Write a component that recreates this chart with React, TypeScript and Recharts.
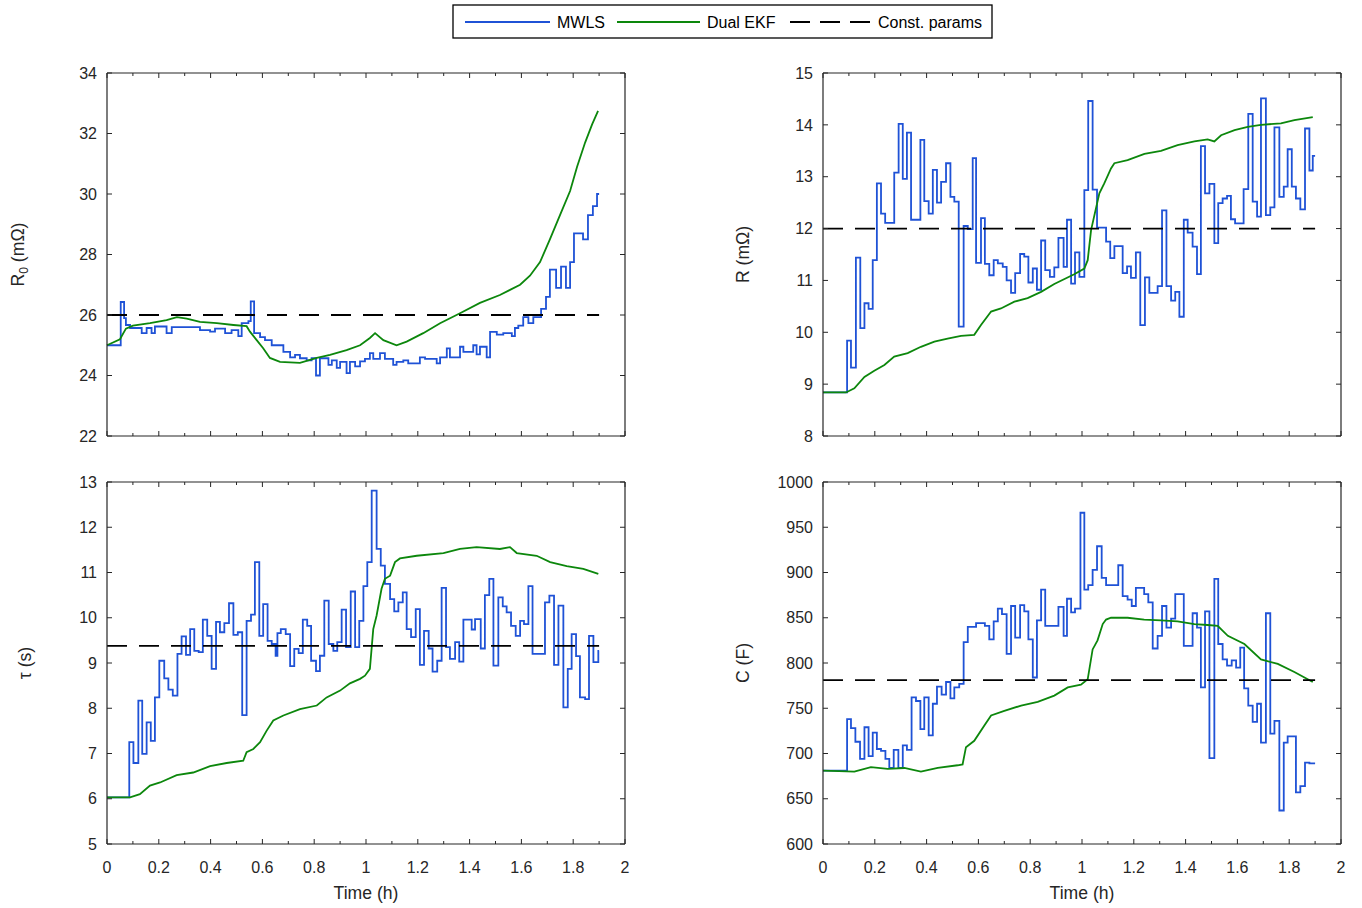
import React from "react";
import { LineChart, Line, XAxis, YAxis } from "recharts";

// ---- R0 (mOhm) ----
const r0MwlsTime = [
  0, 0.053, 0.066, 0.073, 0.089, 0.134, 0.153, 0.172, 0.185, 0.23,
  0.25, 0.359, 0.398, 0.417, 0.456, 0.481, 0.507, 0.52, 0.546, 0.555,
  0.568, 0.591, 0.61, 0.636, 0.681, 0.707, 0.726, 0.745, 0.771, 0.79,
  0.807, 0.822, 0.855, 0.868, 0.887, 0.9, 0.925, 0.938, 0.958, 0.977,
  0.996, 1.015, 1.028, 1.054, 1.073, 1.105, 1.118, 1.144, 1.163, 1.208,
  1.228, 1.273, 1.286, 1.312, 1.324, 1.363, 1.376, 1.414, 1.427, 1.44,
  1.466, 1.479, 1.505, 1.53, 1.563, 1.575, 1.588, 1.607, 1.627, 1.646,
  1.676, 1.695, 1.71, 1.734, 1.753, 1.772, 1.788, 1.803, 1.838, 1.857,
  1.876, 1.892, 1.9,
];
const r0MwlsVal = [
  25.0, 26.43, 25.9, 25.67, 25.57, 25.4, 25.57, 25.4, 25.62, 25.4,
  25.6, 25.5, 25.45, 25.55, 25.4, 25.5, 25.3, 25.73, 25.8, 26.45,
  25.4, 25.27, 25.17, 25.0, 24.78, 24.6, 24.68, 24.57, 24.5, 24.57,
  24.0, 24.57, 24.35, 24.5, 24.25, 24.45, 24.08, 24.45, 24.3, 24.47,
  24.55, 24.74, 24.55, 24.74, 24.55, 24.35, 24.45, 24.5, 24.4, 24.6,
  24.55, 24.4, 24.6, 24.9, 24.6, 24.95, 24.78, 25.0, 24.7, 24.95,
  24.6, 25.44, 25.35, 25.4, 25.3, 25.57, 25.65, 25.93, 25.73, 25.93,
  26.2, 26.6, 27.5, 26.9, 27.6, 26.9, 27.75, 28.7, 28.5, 29.3,
  29.6, 30.0, 30.0,
];
const r0EkfTime = [
  0, 0.05, 0.073, 0.1, 0.166, 0.23, 0.27, 0.308, 0.359, 0.424,
  0.488, 0.539, 0.552, 0.578, 0.603, 0.629, 0.668, 0.745, 0.81, 0.861,
  0.925, 0.977, 1.015, 1.035, 1.067, 1.118, 1.157, 1.221, 1.286, 1.363,
  1.44, 1.517, 1.556, 1.595, 1.633, 1.672, 1.71, 1.749, 1.788, 1.815,
  1.846, 1.873, 1.896,
];
const r0EkfVal = [
  25.0, 25.2, 25.55, 25.65, 25.73, 25.83, 25.93, 25.88, 25.77, 25.73,
  25.67, 25.63, 25.45, 25.17, 24.9, 24.58, 24.45, 24.42, 24.58, 24.68,
  24.84, 25.0, 25.24, 25.4, 25.17, 25.0, 25.12, 25.4, 25.73, 26.06,
  26.4, 26.66, 26.83, 27.0, 27.3, 27.75, 28.5, 29.3, 30.1, 30.9,
  31.7, 32.3, 32.75,
];
const r0Const = 26;

// ---- R (mOhm) ----
const rMwlsTime = [
  0, 0.093, 0.108, 0.127, 0.144, 0.16, 0.176, 0.192, 0.208, 0.224,
  0.24, 0.275, 0.292, 0.308, 0.324, 0.34, 0.376, 0.391, 0.408, 0.424,
  0.44, 0.456, 0.475, 0.492, 0.507, 0.524, 0.543, 0.559, 0.578, 0.591,
  0.61, 0.625, 0.642, 0.659, 0.675, 0.694, 0.709, 0.726, 0.742, 0.761,
  0.777, 0.793, 0.81, 0.826, 0.842, 0.858, 0.876, 0.893, 0.909, 0.929,
  0.942, 0.958, 0.973, 0.99, 1.009, 1.024, 1.041, 1.058, 1.093, 1.109,
  1.125, 1.157, 1.174, 1.189, 1.208, 1.225, 1.243, 1.26, 1.292, 1.309,
  1.326, 1.344, 1.36, 1.376, 1.393, 1.408, 1.427, 1.444, 1.459, 1.475,
  1.492, 1.511, 1.526, 1.543, 1.56, 1.575, 1.591, 1.624, 1.642, 1.659,
  1.676, 1.691, 1.71, 1.727, 1.743, 1.762, 1.779, 1.794, 1.81, 1.826,
  1.843, 1.861, 1.878, 1.891, 1.9,
];
const rMwlsVal = [
  8.84, 9.84, 9.32, 11.44, 10.08, 10.56, 10.45, 11.39, 12.87, 12.29,
  12.11, 13.08, 14.02, 12.96, 13.85, 12.17, 13.71, 12.53, 12.29, 13.13,
  12.5, 12.9, 13.26, 12.61, 12.52, 10.11, 12.05, 11.99, 13.36, 11.34,
  12.2, 11.32, 11.1, 11.39, 11.33, 11.26, 11.0, 10.76, 11.14, 11.51,
  11.46, 10.96, 11.23, 10.82, 11.77, 11.2, 11.07, 11.25, 11.82, 11.26,
  12.17, 10.94, 11.54, 11.07, 12.74, 14.46, 12.75, 12.02, 11.75, 11.43,
  11.66, 11.14, 11.27, 11.05, 11.54, 10.14, 11.06, 10.76, 10.89, 12.35,
  10.89, 10.61, 10.78, 10.3, 12.17, 11.92, 11.65, 11.12, 13.59, 12.68,
  12.86, 11.72, 12.49, 12.58, 12.63, 12.18, 12.1, 12.76, 14.21, 12.52,
  12.23, 14.51, 12.26, 12.41, 13.95, 12.61, 12.81, 13.53, 12.81, 12.58,
  12.37, 13.93, 13.12, 13.4, 13.4,
];
const rEkfTime = [
  0, 0.089, 0.121, 0.16, 0.198, 0.237, 0.275, 0.327, 0.378, 0.43,
  0.481, 0.533, 0.584, 0.61, 0.649, 0.687, 0.739, 0.79, 0.842, 0.893,
  0.97, 1.009, 1.022, 1.035, 1.048, 1.067, 1.086, 1.112, 1.125, 1.176,
  1.241, 1.305, 1.369, 1.434, 1.485, 1.511, 1.537, 1.589, 1.64, 1.691,
  1.768, 1.82, 1.891,
];
const rEkfVal = [
  8.84, 8.84, 8.92, 9.14, 9.26, 9.37, 9.53, 9.6, 9.72, 9.82,
  9.88, 9.93, 9.95, 10.14, 10.4, 10.46, 10.59, 10.66, 10.78, 10.93,
  11.12, 11.23, 11.39, 11.97, 12.26, 12.68, 12.87, 13.16, 13.26, 13.32,
  13.44, 13.5, 13.61, 13.68, 13.72, 13.68, 13.8, 13.9, 13.96, 14.0,
  14.03, 14.09, 14.15,
];
const rConst = 12;

// ---- tau (s) ----
const tauMwlsTime = [
  0, 0.086, 0.102, 0.121, 0.136, 0.153, 0.169, 0.185, 0.202, 0.221,
  0.237, 0.254, 0.272, 0.288, 0.305, 0.321, 0.337, 0.354, 0.37, 0.387,
  0.404, 0.421, 0.436, 0.453, 0.471, 0.488, 0.505, 0.522, 0.539, 0.556,
  0.571, 0.588, 0.603, 0.62, 0.636, 0.651, 0.658, 0.671, 0.69, 0.707,
  0.723, 0.74, 0.756, 0.773, 0.788, 0.807, 0.822, 0.839, 0.856, 0.874,
  0.889, 0.906, 0.923, 0.941, 0.958, 0.974, 0.99, 1.005, 1.022, 1.041,
  1.057, 1.073, 1.093, 1.109, 1.125, 1.142, 1.157, 1.174, 1.192, 1.208,
  1.224, 1.242, 1.257, 1.275, 1.292, 1.309, 1.324, 1.344, 1.36, 1.376,
  1.408, 1.421, 1.443, 1.459, 1.476, 1.492, 1.511, 1.528, 1.543, 1.56,
  1.578, 1.595, 1.61, 1.627, 1.643, 1.691, 1.708, 1.726, 1.743, 1.762,
  1.779, 1.794, 1.811, 1.826, 1.846, 1.861, 1.878, 1.897, 1.9,
];
const tauMwlsVal = [
  6.03, 7.25, 6.79, 8.17, 6.99, 7.69, 7.28, 8.24, 9.05, 8.66,
  8.41, 8.28, 9.2, 9.59, 9.18, 9.75, 9.27, 9.24, 9.96, 9.6,
  8.87, 9.91, 9.68, 9.88, 10.32, 9.62, 9.68, 7.85, 9.93, 10.07,
  11.23, 9.6, 10.3, 9.49, 9.42, 9.16, 9.66, 9.75, 9.64, 8.93,
  9.31, 9.22, 9.96, 9.82, 9.05, 8.82, 9.16, 10.38, 9.42, 9.27,
  9.46, 10.18, 9.35, 10.58, 9.35, 9.93, 10.7, 11.23, 12.81, 11.52,
  11.15, 10.75, 10.41, 10.14, 10.34, 10.56, 9.75, 9.57, 10.19, 8.96,
  9.71, 9.32, 8.81, 9.05, 10.66, 9.35, 9.09, 9.46, 9.03, 9.96,
  9.74, 9.97, 9.32, 10.5, 10.86, 8.94, 10.45, 10.25, 10.12, 9.82,
  9.6, 9.93, 9.86, 10.7, 9.2, 10.34, 10.49, 8.96, 10.27, 8.02,
  8.87, 9.64, 9.15, 8.24, 8.2, 9.6, 9.02, 9.27, 9.27,
];
const tauEkfTime = [
  0, 0.089, 0.127, 0.166, 0.205, 0.269, 0.333, 0.398, 0.462, 0.526,
  0.539, 0.565, 0.591, 0.616, 0.642, 0.681, 0.745, 0.81, 0.848, 0.9,
  0.938, 0.977, 0.996, 1.015, 1.028, 1.041, 1.06, 1.073, 1.093, 1.112,
  1.131, 1.196, 1.299, 1.363, 1.427, 1.517, 1.556, 1.582, 1.659, 1.711,
  1.775, 1.839, 1.897,
];
const tauEkfVal = [
  6.03, 6.03, 6.1, 6.29, 6.36, 6.52, 6.58, 6.72, 6.79, 6.84,
  7.03, 7.1, 7.25, 7.5, 7.73, 7.84, 7.98, 8.06, 8.24, 8.39,
  8.55, 8.65, 8.72, 8.87, 9.75, 10.05, 10.64, 10.86, 10.93, 11.23,
  11.31, 11.37, 11.43, 11.52, 11.56, 11.52, 11.56, 11.43, 11.37, 11.23,
  11.14, 11.08, 10.97,
];
const tauConst = 9.38;

// ---- C (F) ----
const cMwlsTime = [
  0, 0.093, 0.108, 0.125, 0.143, 0.16, 0.176, 0.192, 0.208, 0.224,
  0.241, 0.256, 0.273, 0.291, 0.308, 0.324, 0.342, 0.359, 0.376, 0.391,
  0.408, 0.424, 0.44, 0.458, 0.475, 0.492, 0.507, 0.526, 0.543, 0.559,
  0.591, 0.625, 0.642, 0.659, 0.675, 0.691, 0.709, 0.726, 0.742, 0.761,
  0.777, 0.793, 0.81, 0.826, 0.842, 0.858, 0.909, 0.929, 0.942, 0.958,
  0.973, 0.994, 1.009, 1.024, 1.041, 1.058, 1.076, 1.093, 1.14, 1.157,
  1.176, 1.192, 1.208, 1.24, 1.256, 1.273, 1.292, 1.309, 1.326, 1.344,
  1.36, 1.393, 1.427, 1.444, 1.459, 1.475, 1.492, 1.511, 1.526, 1.543,
  1.56, 1.578, 1.595, 1.611, 1.626, 1.642, 1.659, 1.676, 1.691, 1.71,
  1.727, 1.743, 1.762, 1.779, 1.794, 1.826, 1.843, 1.861, 1.878, 1.9,
];
const cMwlsVal = [
  681, 738, 728, 713, 694, 729, 697, 723, 705, 703,
  694, 684, 704, 684, 709, 704, 762, 758, 727, 762,
  720, 755, 774, 765, 779, 761, 773, 777, 823, 840,
  844, 841, 826, 846, 860, 854, 810, 863, 828, 864,
  857, 826, 784, 847, 881, 841, 862, 830, 871, 856,
  860, 966, 881, 886, 903, 929, 894, 886, 908, 874,
  870, 863, 883, 876, 867, 816, 830, 863, 839, 849,
  876, 819, 855, 839, 773, 857, 695, 893, 821, 804,
  797, 803, 795, 817, 772, 753, 735, 755, 712, 855,
  722, 736, 637, 712, 719, 657, 664, 690, 689, 689,
];
const cEkfTime = [
  0, 0.121, 0.185, 0.25, 0.314, 0.378, 0.443, 0.52, 0.539, 0.552,
  0.584, 0.623, 0.649, 0.7, 0.765, 0.829, 0.893, 0.945, 0.996, 1.022,
  1.041, 1.06, 1.08, 1.093, 1.112, 1.176, 1.24, 1.305, 1.369, 1.434,
  1.485, 1.524, 1.563, 1.627, 1.691, 1.756, 1.82, 1.891,
];
const cEkfVal = [
  681, 680, 685, 683, 684, 680, 684, 687, 688, 707,
  714, 731, 742, 747, 753, 757, 764, 773, 776, 782,
  815, 825, 843, 848, 850, 850, 848, 847, 846, 843,
  842, 841, 830, 821, 804, 799, 790, 779,
];
const cConst = 781;

const constSpan = [0, 1.9];

// ---- axes ----
const xTicks = [0, 0.1, 0.2, 0.3, 0.4, 0.5, 0.6, 0.7, 0.8, 0.9, 1, 1.1, 1.2, 1.3, 1.4, 1.5, 1.6, 1.7, 1.8, 1.9, 2];
const r0Ticks = [22, 24, 26, 28, 30, 32, 34];
const rTicks = [8, 9, 10, 11, 12, 13, 14, 15];
const tauTicks = [5, 6, 7, 8, 9, 10, 11, 12, 13];
const cTicks = [600, 650, 700, 750, 800, 850, 900, 950, 1000];

const FONT = '"Liberation Sans", Arial, Helvetica, sans-serif';
const AXIS = "#262626";
const BLUE = "#1f52d6";
const GREEN = "#0c870c";
const PLOT_W = 518;

type Pt = { t: number; v: number };
const toPts = (ts: number[], vs: number[]): Pt[] => ts.map((t, i) => ({ t, v: vs[i] }));
const constPts = (v: number): Pt[] => constSpan.map((t) => ({ t, v }));

const isMajorX = (v: number) => Math.round(v * 10) % 2 === 0;
const fmtX = (v: number) => String(Math.round(v * 10) / 10);

const bottomTick = (labels: boolean) => (p: any) => {
  const v = p.payload.value;
  const major = isMajorX(v);
  return (
    <g>
      <line x1={p.x} x2={p.x} y1={p.y} y2={p.y - (major ? 5 : 3)} stroke={AXIS} strokeWidth={1} />
      {labels && major && (
        <text x={p.x} y={p.y + 29} textAnchor="middle" fontSize={16} fill={AXIS} fontFamily={FONT}>
          {fmtX(v)}
        </text>
      )}
    </g>
  );
};

const topTick = (p: any) => {
  const major = isMajorX(p.payload.value);
  return <line x1={p.x} x2={p.x} y1={p.y} y2={p.y + (major ? 5 : 3)} stroke={AXIS} strokeWidth={1} />;
};

const leftTick = (p: any) => (
  <g>
    <line x1={p.x} x2={p.x + 5} y1={p.y} y2={p.y} stroke={AXIS} strokeWidth={1} />
    <text x={p.x - 10} y={p.y + 5.7} textAnchor="end" fontSize={16} fill={AXIS} fontFamily={FONT}>
      {String(p.payload.value)}
    </text>
  </g>
);

const rightTick = (p: any) => <line x1={p.x} x2={p.x - 5} y1={p.y} y2={p.y} stroke={AXIS} strokeWidth={1} />;

type PanelProps = {
  left: number;
  top: number;
  plotH: number;
  domain: [number, number];
  yTicks: number[];
  mwls: Pt[];
  ekf: Pt[];
  constant: Pt[];
  yLabel: React.ReactNode;
  yLabelX: number;
  showX: boolean;
};

function Panel({ left, top, plotH, domain, yTicks, mwls, ekf, constant, yLabel, yLabelX, showX }: PanelProps) {
  const chartLeft = left - 100;
  const chartTop = top - 10;
  const lx = yLabelX - chartLeft;
  const ly = 10 + plotH / 2;
  return (
    <div style={{ position: "absolute", left: chartLeft, top: chartTop }}>
      <LineChart width={100 + PLOT_W + 20} height={10 + plotH + 60} margin={{ top: 9, right: 19, bottom: 0, left: 0 }}>
        <XAxis
          dataKey="t"
          type="number"
          domain={[0, 2]}
          ticks={xTicks}
          interval={0}
          height={60}
          tickLine={false}
          tickSize={0}
          tickMargin={0}
          axisLine={{ stroke: AXIS, strokeWidth: 1.2 }}
          tick={bottomTick(showX)}
          label={
            showX
              ? () => (
                  <text x={100 + PLOT_W / 2} y={10 + plotH + 55} textAnchor="middle" fontSize={17.6} fill={AXIS} fontFamily={FONT}>
                    Time (h)
                  </text>
                )
              : undefined
          }
        />
        <XAxis
          xAxisId="top"
          dataKey="t"
          type="number"
          orientation="top"
          domain={[0, 2]}
          ticks={xTicks}
          interval={0}
          height={1}
          tickLine={false}
          tickSize={0}
          tickMargin={0}
          axisLine={{ stroke: AXIS, strokeWidth: 1.2 }}
          tick={topTick}
        />
        <YAxis
          type="number"
          domain={domain}
          allowDataOverflow
          ticks={yTicks}
          interval={0}
          width={100}
          tickLine={false}
          tickSize={0}
          tickMargin={0}
          axisLine={{ stroke: AXIS, strokeWidth: 1.2 }}
          tick={leftTick}
          label={() => (
            <text
              x={lx}
              y={ly}
              transform={`rotate(-90, ${lx}, ${ly})`}
              textAnchor="middle"
              fontSize={17.6}
              fill={AXIS}
              fontFamily={FONT}
            >
              {yLabel}
            </text>
          )}
        />
        <YAxis
          yAxisId="right"
          type="number"
          orientation="right"
          domain={domain}
          allowDataOverflow
          ticks={yTicks}
          interval={0}
          width={1}
          tickLine={false}
          tickSize={0}
          tickMargin={0}
          axisLine={{ stroke: AXIS, strokeWidth: 1.2 }}
          tick={rightTick}
        />
        <Line data={mwls} dataKey="v" type="stepAfter" stroke={BLUE} strokeWidth={1.8} dot={false} activeDot={false} isAnimationActive={false} />
        <Line data={ekf} dataKey="v" type="linear" stroke={GREEN} strokeWidth={1.8} dot={false} activeDot={false} isAnimationActive={false} />
        <Line
          data={constant}
          xAxisId="top"
          yAxisId="right"
          dataKey="v"
          type="linear"
          stroke="#000"
          strokeWidth={1.8}
          strokeDasharray="20 12"
          dot={false}
          activeDot={false}
          isAnimationActive={false}
        />
      </LineChart>
    </div>
  );
}

function LegendBox() {
  return (
    <svg style={{ position: "absolute", left: 452, top: 4 }} width={542} height={36}>
      <rect x={1} y={1} width={539} height={33} fill="#fff" stroke="#000" strokeWidth={1.3} />
      <line x1={13} x2={98} y1={18} y2={18} stroke={BLUE} strokeWidth={1.8} />
      <text x={105} y={23.7} fontSize={16} fontFamily={FONT} fill="#000">MWLS</text>
      <line x1={165} x2={248} y1={18} y2={18} stroke={GREEN} strokeWidth={1.8} />
      <text x={255} y={23.7} fontSize={16} fontFamily={FONT} fill="#000">Dual EKF</text>
      <line x1={338} x2={418} y1={18} y2={18} stroke="#000" strokeWidth={1.8} strokeDasharray="20 10" />
      <text x={426} y={23.7} fontSize={16} fontFamily={FONT} fill="#000">Const. params</text>
    </svg>
  );
}

export default function App() {
  return (
    <div style={{ position: "absolute", left: 0, top: 0, width: 1362, height: 908, background: "#fff", fontFamily: FONT }}>
      <LegendBox />
      <Panel
        left={107}
        top={73}
        plotH={363}
        domain={[22, 34]}
        yTicks={r0Ticks}
        mwls={toPts(r0MwlsTime, r0MwlsVal)}
        ekf={toPts(r0EkfTime, r0EkfVal)}
        constant={constPts(r0Const)}
        yLabelX={24}
        yLabel={
          <>
            R<tspan dy={4} fontSize={12}>0</tspan>
            <tspan dy={-4}> (mΩ)</tspan>
          </>
        }
        showX={false}
      />
      <Panel
        left={823}
        top={73}
        plotH={363}
        domain={[8, 15]}
        yTicks={rTicks}
        mwls={toPts(rMwlsTime, rMwlsVal)}
        ekf={toPts(rEkfTime, rEkfVal)}
        constant={constPts(rConst)}
        yLabelX={749}
        yLabel="R (mΩ)"
        showX={false}
      />
      <Panel
        left={107}
        top={482}
        plotH={362}
        domain={[5, 13]}
        yTicks={tauTicks}
        mwls={toPts(tauMwlsTime, tauMwlsVal)}
        ekf={toPts(tauEkfTime, tauEkfVal)}
        constant={constPts(tauConst)}
        yLabelX={31}
        yLabel="τ (s)"
        showX={true}
      />
      <Panel
        left={823}
        top={482}
        plotH={362}
        domain={[600, 1000]}
        yTicks={cTicks}
        mwls={toPts(cMwlsTime, cMwlsVal)}
        ekf={toPts(cEkfTime, cEkfVal)}
        constant={constPts(cConst)}
        yLabelX={749}
        yLabel="C (F)"
        showX={true}
      />
    </div>
  );
}
